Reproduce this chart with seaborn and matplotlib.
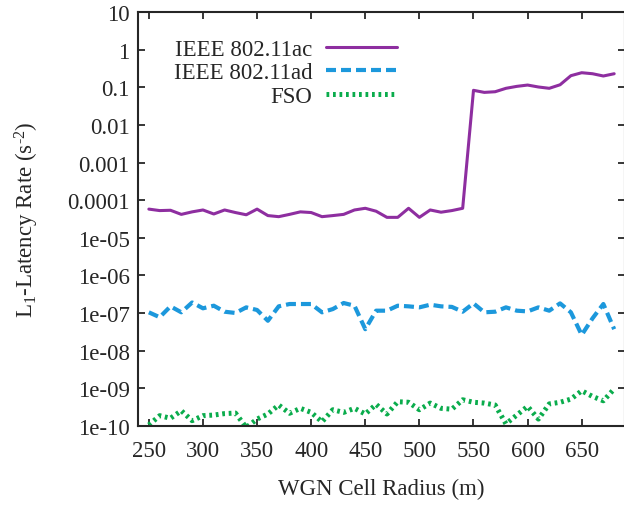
import matplotlib
matplotlib.use("Agg")
import matplotlib.pyplot as plt
import seaborn as sns
import numpy as np
import pandas as pd

# cell radius (m)
radius = list(range(250, 690, 10))

ac_rate = [5.8e-5, 5.3e-5, 5.4e-5, 4.2e-5, 4.9e-5, 5.5e-5, 4.3e-5, 5.5e-5, 4.7e-5, 4.1e-5,
           5.8e-5, 3.9e-5, 3.65e-5, 4.2e-5, 4.9e-5, 4.7e-5, 3.65e-5, 3.9e-5, 4.2e-5, 5.5e-5,
           6.1e-5, 5.1e-5, 3.5e-5, 3.5e-5, 6.1e-5, 3.5e-5, 5.5e-5, 4.8e-5, 5.3e-5, 6.1e-5,
           0.084, 0.074, 0.077, 0.095, 0.107, 0.116, 0.103, 0.095, 0.118, 0.206,
           0.247, 0.232, 0.202, 0.232]

ad_rate = [1.04e-7, 7.7e-8, 1.5e-7, 1.04e-7, 1.9e-7, 1.33e-7, 1.56e-7, 1.08e-7, 1.0e-7, 1.41e-7,
           1.2e-7, 6.2e-8, 1.5e-7, 1.73e-7, 1.73e-7, 1.73e-7, 1.04e-7, 1.27e-7, 1.84e-7, 1.56e-7,
           3.7e-8, 1.15e-7, 1.15e-7, 1.56e-7, 1.5e-7, 1.41e-7, 1.66e-7, 1.5e-7, 1.45e-7, 1.08e-7,
           1.8e-7, 1.04e-7, 1.08e-7, 1.41e-7, 1.15e-7, 1.1e-7, 1.41e-7, 1.15e-7, 1.8e-7, 1.04e-7,
           2.6e-8, 7.2e-8, 1.73e-7, 3.7e-8]

fso_rate = [1.05e-10, 1.85e-10, 1.58e-10, 2.5e-10, 1.36e-10, 1.85e-10, 1.92e-10, 2.1e-10, 2.17e-10, 9e-11,
            1.5e-10, 2.05e-10, 3.55e-10, 2.14e-10, 2.9e-10, 2.26e-10, 1.27e-10, 2.66e-10, 2.26e-10, 2.9e-10,
            2.05e-10, 3.7e-10, 2.05e-10, 4.35e-10, 4.2e-10, 2.66e-10, 4.0e-10, 2.9e-10, 2.75e-10, 4.9e-10,
            4.2e-10, 4.0e-10, 3.55e-10, 1.12e-10, 1.92e-10, 3.27e-10, 1.5e-10, 3.8e-10, 4.2e-10, 5.1e-10,
            8.5e-10, 6.0e-10, 4.6e-10, 9.5e-10]

series_names = ["IEEE 802.11ac", "IEEE 802.11ad", "FSO"]
x_ticks = [250, 300, 350, 400, 450, 500, 550, 600, 650]
y_ticks = [1e1, 1e0, 1e-1, 1e-2, 1e-3, 1e-4, 1e-5, 1e-6, 1e-7, 1e-8, 1e-9, 1e-10]
y_tick_labels = ["10", "1", "0.1", "0.01", "0.001", "0.0001", "1e-05", "1e-06",
                 "1e-07", "1e-08", "1e-09", "1e-10"]

df = pd.DataFrame({
    "radius": radius * 3,
    "rate": ac_rate + ad_rate + fso_rate,
    "tech": [n for n in series_names for _ in radius],
})

sns.set_style("ticks")
plt.rcParams["font.family"] = ["Liberation Serif", "DejaVu Serif"]
plt.rcParams["mathtext.fontset"] = "custom"
plt.rcParams["mathtext.rm"] = "Liberation Serif"
plt.rcParams["mathtext.it"] = "Liberation Serif:italic"
fs = 16.5
plt.rcParams["font.size"] = fs

fig = plt.figure(figsize=(6.24, 5.06), dpi=100)
ax = fig.add_axes([0.2212, 0.1567, 0.7804, 0.817])

styles = {
    "IEEE 802.11ac": dict(color="#8e2ea0", linestyle="-", linewidth=2.2),
    "IEEE 802.11ad": dict(color="#1c98dc", linestyle=(0, (2.4, 1.2)), linewidth=3.0),
    "FSO": dict(color="#0aac4c", linestyle=(0, (0.55, 0.75)), linewidth=3.6),
}

for name in series_names:
    sub = df[df["tech"] == name]
    sns.lineplot(data=sub, x="radius", y="rate", ax=ax, label=name,
                 dash_capstyle="butt", **styles[name])

ax.set_yscale("log")
ax.set_xlim(240, 690)
ax.set_ylim(1e-10, 10)
ax.set_xticks(x_ticks)
ax.set_yticks(y_ticks)
ax.set_yticklabels(y_tick_labels)
ax.minorticks_off()
ax.tick_params(direction="in", top=True, right=True, length=5, width=1.3, labelsize=fs)
ax.tick_params(axis="x", pad=10)
ax.tick_params(axis="y", pad=6)
for s in ax.spines.values():
    s.set_linewidth(1.5)

ax.set_xlabel("WGN Cell Radius (m)", fontsize=fs)
ax.set_ylabel(r"L$_1$-Latency Rate (s$^{\text{-}2}$)", fontsize=fs)
ax.xaxis.set_label_coords(0.5, -0.125)
ax.yaxis.set_label_coords(-0.2, 0.5)

handles, labels = ax.get_legend_handles_labels()
ax.legend(handles, labels, loc="upper right", bbox_to_anchor=(0.67, 0.962),
          bbox_transform=fig.transFigure, frameon=False, markerfirst=False,
          handlelength=3.1, handletextpad=0.6, labelspacing=0.1, fontsize=fs)

fig.savefig("out.png", dpi=100)
